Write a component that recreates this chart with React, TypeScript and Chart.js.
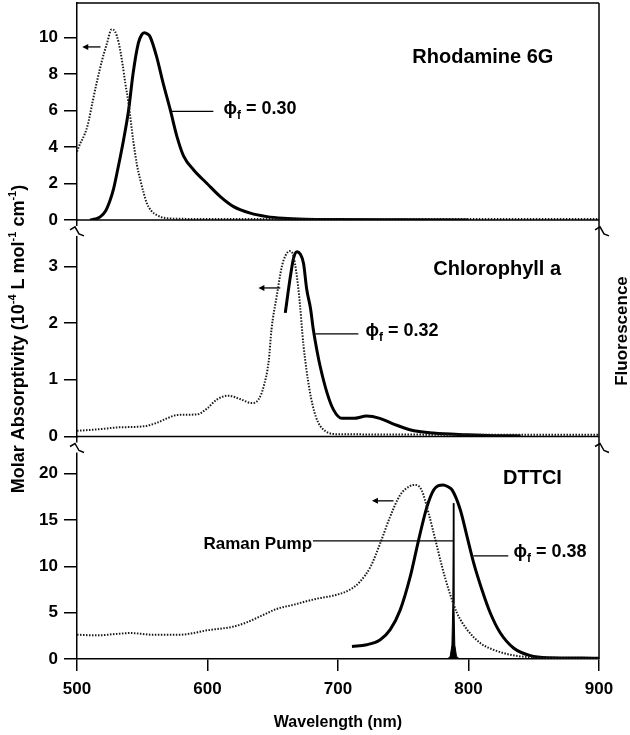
import React, { useEffect, useRef } from 'react';
import { Chart, registerables } from 'chart.js';
Chart.register(...registerables);

// ---- tick labels ----
const X_TICKS = [500, 600, 700, 800, 900];
const R6G_TICKS = [0, 2, 4, 6, 8, 10];
const CHL_TICKS = [0, 1, 2, 3];
const DTT_TICKS = [0, 5, 10, 15, 20];

// ---- Rhodamine 6G ----
const R6G_ABS_NM = [500, 502.5, 504, 508, 512, 515, 519, 523, 526.5, 529, 532, 535, 537, 539.5, 543, 546, 548.5, 551, 553.6, 557, 561, 565, 569, 580, 600, 700, 800, 900];
const R6G_ABS = [3.75, 4.2, 4.4, 5.15, 6.5, 7.5, 8.7, 9.7, 10.45, 10.35, 9.7, 8.5, 7.5, 6.4, 4.4, 3.0, 2.2, 1.5, 0.9, 0.5, 0.27, 0.14, 0.09, 0.06, 0.05, 0.05, 0.05, 0.05];
const R6G_FL_NM = [510, 514, 518, 522, 525.5, 528, 530.6, 533, 535.7, 539.5, 543, 547, 549.5, 551.6, 554, 556, 561, 566, 571.5, 576.6, 581.7, 589.4, 599.6, 609.8, 620, 632.8, 645.6, 658, 675, 700, 750, 800];
const R6G_FL = [0, 0.05, 0.18, 0.5, 1.1, 1.7, 2.56, 3.4, 4.4, 6.0, 8.05, 9.7, 10.15, 10.27, 10.2, 10.05, 8.96, 7.5, 6.03, 4.57, 3.5, 2.74, 2.0, 1.28, 0.73, 0.37, 0.18, 0.09, 0.04, 0.02, 0.01, 0.0];

// ---- Chlorophyll a ----
const CHL_ABS_NM = [500, 518, 531, 551, 561, 569, 577, 592, 600, 607, 616, 625, 634, 639, 643, 647, 649, 653, 657, 660, 663, 666, 670, 673.6, 678, 683, 690, 700, 900];
const CHL_ABS = [0.1, 0.13, 0.16, 0.18, 0.24, 0.32, 0.38, 0.39, 0.5, 0.65, 0.72, 0.66, 0.59, 0.65, 0.88, 1.35, 1.88, 2.47, 3.0, 3.2, 3.27, 3.17, 2.53, 1.6, 0.85, 0.35, 0.1, 0.04, 0.03];
const CHL_FL_NM = [659.6, 663.5, 666, 668.6, 671, 673.6, 676, 679, 681, 684, 686.4, 691.6, 696.6, 703, 712, 722, 732, 742.6, 755, 773, 799, 820, 840];
const CHL_FL = [2.18, 2.82, 3.15, 3.26, 3.22, 3.05, 2.6, 2.25, 1.9, 1.5, 1.23, 0.77, 0.47, 0.32, 0.32, 0.36, 0.32, 0.22, 0.12, 0.06, 0.03, 0.015, 0.01];

// ---- DTTCI ----
const DTT_ABS_NM = [500, 515, 530, 541, 558, 579, 600, 620, 630, 643, 653, 666, 675, 686, 699, 709, 717, 725, 732.4, 740, 747.7, 755.4, 759, 764, 769.4, 774.6, 779.7, 784.8, 791.2, 799, 809, 819, 834.5, 850, 870, 900];
const DTT_ABS = [2.62, 2.55, 2.7, 2.8, 2.62, 2.62, 3.1, 3.5, 3.95, 4.77, 5.4, 5.85, 6.2, 6.57, 6.93, 7.47, 8.36, 9.98, 12.5, 15.37, 17.7, 18.67, 18.78, 18.24, 15.73, 12.86, 9.98, 7.47, 4.96, 3.16, 1.72, 1.0, 0.39, 0.18, 0.08, 0.05];
const DTT_FL_NM = [710.7, 722, 732.4, 740, 747.7, 755.4, 761.8, 768.2, 773.3, 777, 780.5, 784, 787.4, 793.7, 798.9, 804, 810.3, 816.7, 824.4, 834.5, 847.4, 862.7, 888, 900];
const DTT_FL = [1.36, 1.54, 2.08, 3.16, 5.3, 8.9, 12.86, 16.44, 18.24, 18.7, 18.78, 18.6, 18.24, 16.1, 13.2, 10.34, 7.47, 4.96, 2.8, 1.19, 0.36, 0.14, 0.1, 0.08];
const RAMAN_NM = [784, 786, 787.3, 788, 788.4, 788.8, 789.5, 790.8, 793];
const RAMAN = [0, 0.3, 1.5, 6, 16.8, 6, 1.5, 0.3, 0];

const FONT = '"Liberation Sans", Arial, Helvetica, sans-serif';

type Part = { t: string; size: number; dy?: number };

function drawParts(ctx: CanvasRenderingContext2D, parts: Part[], x: number, y: number, align: 'left' | 'right' | 'center') {
  let total = 0;
  const widths = parts.map((p) => {
    ctx.font = `bold ${p.size}px ${FONT}`;
    const w = ctx.measureText(p.t).width;
    total += w;
    return w;
  });
  let cx = align === 'left' ? x : align === 'right' ? x - total : x - total / 2;
  ctx.textAlign = 'left';
  ctx.textBaseline = 'alphabetic';
  parts.forEach((p, i) => {
    ctx.font = `bold ${p.size}px ${FONT}`;
    ctx.fillText(p.t, cx, y + (p.dy || 0));
    cx += widths[i];
  });
}

const annotPlugin = {
  id: 'annot',
  afterDatasetsDraw(chart: any) {
    const ctx: CanvasRenderingContext2D = chart.ctx;
    const { left, right, top, bottom } = chart.chartArea;
    const xs = chart.scales.x;
    const yR = chart.scales.yR;
    const yC = chart.scales.yC;
    const yD = chart.scales.yD;
    const X = (v: number) => xs.getPixelForValue(v);
    ctx.save();
    ctx.strokeStyle = '#000';
    ctx.fillStyle = '#000';
    ctx.lineWidth = 1.5;
    // frame
    ctx.beginPath();
    ctx.moveTo(left, top);
    ctx.lineTo(right, top);
    ctx.moveTo(right, top);
    ctx.lineTo(right, bottom);
    ctx.stroke();
    // zero lines of the upper panels
    [yR, yC].forEach((s) => {
      const y = s.getPixelForValue(0);
      ctx.beginPath();
      ctx.moveTo(left, y);
      ctx.lineTo(right, y);
      ctx.stroke();
    });
    // break marks
    const brk = (cx: number, cy: number) => {
      ctx.save();
      ctx.fillStyle = '#fff';
      ctx.fillRect(cx - 1, cy - 5, 2, 10);
      ctx.restore();
      ctx.beginPath();
      ctx.moveTo(cx - 7, cy - 1);
      ctx.lineTo(cx - 2, cy - 4);
      ctx.lineTo(cx + 2, cy + 3);
      ctx.lineTo(cx + 7, cy + 5);
      ctx.stroke();
    };
    [yR, yC].forEach((s) => {
      const y = s.getPixelForValue(0) + 11;
      brk(left, y);
      brk(right + 3, y);
    });
    // arrows
    const arrow = (s: any, x0: number, x1: number, v: number) => {
      const y = s.getPixelForValue(v);
      const a = X(x0);
      const b = X(x1);
      ctx.lineWidth = 1.3;
      ctx.beginPath();
      ctx.moveTo(b, y);
      ctx.lineTo(a + 4, y);
      ctx.stroke();
      ctx.beginPath();
      ctx.moveTo(a, y);
      ctx.lineTo(a + 6, y - 3);
      ctx.lineTo(a + 6, y + 3);
      ctx.closePath();
      ctx.fill();
    };
    arrow(yR, 504, 518, 9.49);
    arrow(yC, 639, 655.8, 2.62);
    arrow(yD, 726, 742.5, 17.06);
    // leader lines
    const hline = (s: any, x0: number, x1: number, v: number) => {
      const y = s.getPixelForValue(v);
      ctx.lineWidth = 1.3;
      ctx.beginPath();
      ctx.moveTo(X(x0), y);
      ctx.lineTo(X(x1), y);
      ctx.stroke();
    };
    hline(yR, 571.6, 604.5, 5.95);
    hline(yC, 682.6, 715.6, 1.81);
    hline(yD, 803.7, 830.5, 11.13);
    hline(yD, 680.8, 788.4, 12.75);
    // phi labels
    const phi = (s: any, x0: number, v: number, val: string) => {
      const y = s.getPixelForValue(v) + 6;
      drawParts(ctx, [
        { t: '\u03D5', size: 18 },
        { t: 'f', size: 12, dy: 5 },
        { t: ' = ' + val, size: 18 },
      ], X(x0), y, 'left');
    };
    phi(yR, 612.3, 6.13, '0.30');
    phi(yC, 721, 1.88, '0.32');
    phi(yD, 834.4, 11.6, '0.38');
    // Raman pump label
    drawParts(ctx, [{ t: 'Raman Pump', size: 17 }], X(680.1), yD.getPixelForValue(12.56) + 6, 'right');
    // panel titles
    drawParts(ctx, [{ t: 'Rhodamine 6G', size: 20 }], X(811), yR.getPixelForValue(9.0) + 7, 'center');
    drawParts(ctx, [{ t: 'Chlorophyll a', size: 20 }], X(822), yC.getPixelForValue(2.975) + 7, 'center');
    drawParts(ctx, [{ t: 'DTTCI', size: 20 }], X(849), yD.getPixelForValue(19.64) + 7, 'center');
    // left axis title (rotated)
    ctx.save();
    ctx.translate(24, (top + bottom) / 2 + 8);
    ctx.rotate(-Math.PI / 2);
    drawParts(ctx, [
      { t: 'Molar Absorptivity (10', size: 18 },
      { t: '-4', size: 11, dy: -8 },
      { t: ' L mol', size: 18 },
      { t: '-1', size: 11, dy: -8 },
      { t: ' cm', size: 18 },
      { t: '-1', size: 11, dy: -8 },
      { t: ')', size: 18 },
    ], 0, 0, 'center');
    ctx.restore();
    // right axis title
    ctx.save();
    ctx.translate(627, (top + bottom) / 2);
    ctx.rotate(-Math.PI / 2);
    drawParts(ctx, [{ t: 'Fluorescence', size: 17 }], 0, 0, 'center');
    ctx.restore();
    ctx.restore();
  },
};

function yScale(ticks: number[], max: number, weight: number) {
  return {
    type: 'linear',
    position: 'left',
    stack: 'panels',
    stackWeight: weight,
    min: 0,
    max,
    afterBuildTicks: (s: any) => {
      s.ticks = ticks.map((v) => ({ value: v }));
    },
    afterFit: (s: any) => {
      s.width = 77;
      s.paddingTop = 0;
      s.paddingBottom = 0;
    },
    grid: { drawOnChartArea: false, tickLength: 13, color: '#000', lineWidth: 1.5 },
    border: { display: true, color: '#000', width: 1.5 },
    ticks: { color: '#000', font: { family: FONT, size: 17, weight: 'bold' }, padding: 6 },
  };
}

export default function App() {
  const ref = useRef<HTMLCanvasElement>(null);
  useEffect(() => {
    document.body.style.margin = '0';
    const mk = (xs: number[], ys: number[]) => xs.map((x, i) => ({ x, y: ys[i] }));
    const abs = { borderColor: '#1a1a1a', borderWidth: 2, borderDash: [1.5, 1.5], pointRadius: 0, fill: false, cubicInterpolationMode: 'monotone' };
    const flu = { borderColor: '#000', borderWidth: 3, pointRadius: 0, fill: false, cubicInterpolationMode: 'monotone' };
    const chart = new Chart(ref.current as HTMLCanvasElement, {
      type: 'line',
      data: {
        datasets: [
          { ...abs, data: mk(R6G_ABS_NM, R6G_ABS), yAxisID: 'yR' },
          { ...flu, data: mk(R6G_FL_NM, R6G_FL), yAxisID: 'yR' },
          { ...abs, data: mk(CHL_ABS_NM, CHL_ABS), yAxisID: 'yC' },
          { ...flu, data: mk(CHL_FL_NM, CHL_FL), yAxisID: 'yC' },
          { ...abs, data: mk(DTT_ABS_NM, DTT_ABS), yAxisID: 'yD' },
          { ...flu, data: mk(DTT_FL_NM, DTT_FL), yAxisID: 'yD' },
          { data: mk(RAMAN_NM, RAMAN), yAxisID: 'yD', borderColor: '#000', backgroundColor: '#000', borderWidth: 1, fill: 'origin', pointRadius: 0, tension: 0 },
        ] as any,
      },
      options: {
        responsive: false,
        animation: false,
        devicePixelRatio: 1,
        layout: { padding: { top: 3, right: 31, left: 0, bottom: 0 } },
        plugins: { legend: { display: false }, tooltip: { enabled: false } },
        scales: {
          x: {
            type: 'linear',
            min: 500,
            max: 900,
            afterBuildTicks: (s: any) => {
              s.ticks = X_TICKS.map((v) => ({ value: v }));
            },
            afterFit: (s: any) => {
              s.height = 76;
              s.paddingLeft = 0;
              s.paddingRight = 0;
            },
            grid: { drawOnChartArea: false, tickLength: 12, color: '#000', lineWidth: 1.5 },
            border: { display: true, color: '#000', width: 1.5 },
            ticks: { color: '#000', font: { family: FONT, size: 17, weight: 'bold' }, padding: 8, maxRotation: 0 },
            title: { display: true, text: 'Wavelength (nm)', color: '#000', font: { family: FONT, size: 16, weight: 'bold' }, padding: { top: 0, bottom: 3 } },
          },
          yD: yScale(DTT_TICKS, 24, 222.6),
          yC: yScale(CHL_TICKS, 3.82, 216.7),
          yR: yScale(R6G_TICKS, 11.9, 217),
        } as any,
      },
      plugins: [annotPlugin],
    });
    return () => chart.destroy();
  }, []);
  return <canvas ref={ref} width={630} height={735} style={{ display: 'block' }} />;
}
